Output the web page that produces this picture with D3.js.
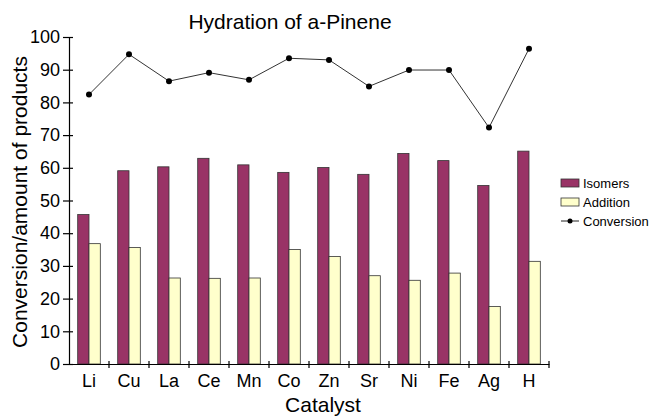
<!DOCTYPE html>
<html lang="en">
<head>
    <meta charset="UTF-8">
    <title>Hydration of a-Pinene</title>
    <style>
        body {
            margin: 0;
            background: #fff;
            overflow: hidden;
        }

        svg {
            display: block;
            font-family: "Liberation Sans", Arial, sans-serif;
        }

        .domain, .tick line {
            stroke: #000;
            stroke-width: 1.2px;
        }
    </style>
</head>
<body>
<svg width="652" height="416"></svg>

<script src="https://d3js.org/d3.v7.min.js"></script>
<script>
    // valeurs
    const catalysts = ["Li", "Cu", "La", "Ce", "Mn", "Co", "Zn", "Sr", "Ni", "Fe", "Ag", "H"];
    const isomers = [45.7, 59.1, 60.3, 62.9, 60.9, 58.6, 60.1, 58.0, 64.4, 62.2, 54.6, 65.1];
    const addition = [36.8, 35.6, 26.3, 26.2, 26.3, 35.0, 32.9, 27.0, 25.6, 27.8, 17.6, 31.4];
    const conversion = [82.4, 94.7, 86.5, 89.1, 86.9, 93.5, 93.0, 84.9, 89.9, 89.9, 72.3, 96.4];
    const yTicks = [0, 10, 20, 30, 40, 50, 60, 70, 80, 90, 100];

    const seriesNames = ["Isomers", "Addition"];
    const seriesColors = ["#993366", "#ffffcc"];

    const svg = d3.select("svg");
    const plotLeft = 69, plotRight = 549, plotTop = 37, plotBottom = 364;

    const x = d3.scaleBand()
        .domain(catalysts)
        .range([plotLeft, plotRight])
        .paddingInner(0)
        .paddingOuter(0);

    const inner = d3.scaleBand()
        .domain(seriesNames)
        .range([0, x.bandwidth()])
        .paddingInner(0)
        .paddingOuter(0.77);

    const y = d3.scaleLinear()
        .domain([0, 100])
        .range([plotBottom, plotTop]);

    // barres
    const groups = svg.append("g")
        .selectAll("g")
        .data(catalysts)
        .join("g")
        .attr("transform", d => `translate(${x(d)},0)`);

    groups.selectAll("rect")
        .data((d, i) => [
            {name: "Isomers", value: isomers[i], color: seriesColors[0]},
            {name: "Addition", value: addition[i], color: seriesColors[1]}
        ])
        .join("rect")
        .attr("x", d => inner(d.name))
        .attr("y", d => y(d.value))
        .attr("width", inner.bandwidth())
        .attr("height", d => y(0) - y(d.value))
        .attr("fill", d => d.color)
        .attr("stroke", "#333")
        .attr("stroke-width", 0.8);

    // courbe de conversion
    const line = d3.line()
        .x((d, i) => x(catalysts[i]) + x.bandwidth() / 2)
        .y(d => y(d));

    svg.append("path")
        .datum(conversion)
        .attr("d", line)
        .attr("fill", "none")
        .attr("stroke", "#333")
        .attr("stroke-width", 1);

    svg.append("g")
        .selectAll("circle")
        .data(conversion)
        .join("circle")
        .attr("cx", (d, i) => x(catalysts[i]) + x.bandwidth() / 2)
        .attr("cy", d => y(d))
        .attr("r", 3)
        .attr("fill", "#000");

    // axes
    const yAxis = svg.append("g")
        .attr("transform", `translate(${plotLeft},0)`)
        .call(d3.axisLeft(y).tickValues(yTicks).tickSize(6).tickSizeOuter(0).tickPadding(3));
    yAxis.selectAll(".tick line").attr("x2", -6).attr("x1", 4);
    yAxis.selectAll("text")
        .attr("font-size", 18)
        .attr("font-family", "Liberation Sans, Arial, sans-serif")
        .attr("fill", "#000");

    const xAxis = svg.append("g")
        .attr("transform", `translate(0,${plotBottom})`)
        .call(d3.axisBottom(x).tickSize(0).tickSizeOuter(0).tickPadding(10));
    xAxis.selectAll("text")
        .attr("font-size", 18)
        .attr("font-family", "Liberation Sans, Arial, sans-serif")
        .attr("fill", "#000");

    // petits traits entre les catégories
    xAxis.append("g")
        .selectAll("line")
        .data(catalysts)
        .join("line")
        .attr("x1", d => x(d) + x.step())
        .attr("x2", d => x(d) + x.step())
        .attr("y1", -3)
        .attr("y2", 4)
        .attr("stroke", "#000")
        .attr("stroke-width", 1.2);

    // titres
    svg.append("text")
        .attr("x", 290)
        .attr("y", 29)
        .attr("text-anchor", "middle")
        .attr("font-size", 21)
        .text("Hydration of a-Pinene");

    svg.append("text")
        .attr("x", 323)
        .attr("y", 412)
        .attr("text-anchor", "middle")
        .attr("font-size", 21)
        .text("Catalyst");

    svg.append("text")
        .attr("transform", "translate(27,202) rotate(-90)")
        .attr("text-anchor", "middle")
        .attr("font-size", 21)
        .text("Conversion/amount of products");

    // légende
    const legend = svg.append("g").attr("transform", "translate(561,0)");
    const legendRows = [
        {name: "Isomers", color: seriesColors[0], y: 183},
        {name: "Addition", color: seriesColors[1], y: 202},
        {name: "Conversion", color: null, y: 221}
    ];

    legendRows.forEach(r => {
        if (r.color) {
            legend.append("rect")
                .attr("x", 0)
                .attr("y", r.y - 4)
                .attr("width", 18)
                .attr("height", 8)
                .attr("fill", r.color)
                .attr("stroke", "#333")
                .attr("stroke-width", 0.8);
        } else {
            legend.append("line")
                .attr("x1", 0).attr("x2", 18)
                .attr("y1", r.y).attr("y2", r.y)
                .attr("stroke", "#222");
            legend.append("circle")
                .attr("cx", 9).attr("cy", r.y).attr("r", 2.5)
                .attr("fill", "#000");
        }
        legend.append("text")
            .attr("x", 22)
            .attr("y", r.y)
            .attr("dy", "0.35em")
            .attr("font-size", 13)
            .text(r.name);
    });
</script>
</body>
</html>
